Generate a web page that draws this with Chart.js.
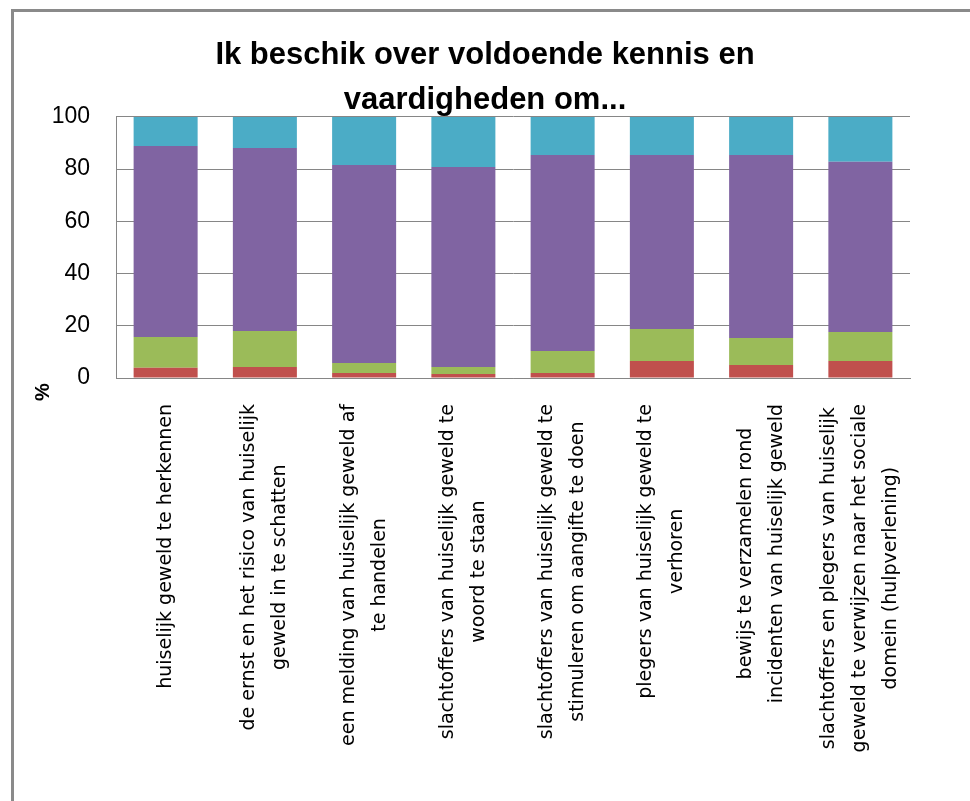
<!DOCTYPE html>
<html>
<head>
<meta charset="utf-8">
<script src="https://cdn.jsdelivr.net/npm/chart.js@4"></script>
<style>
  html, body { margin: 0; padding: 0; background: #fff; overflow: hidden; }
  #wrap { position: relative; width: 970px; height: 801px; }
  #frame { position: absolute; left: 11px; top: 9px; width: 2000px; height: 2000px; border: 3px solid #8a8a8a; }
  #chart { position: absolute; left: 0; top: 0; }
</style>
</head>
<body>
<div id="wrap">
  <div id="frame"></div>
  <canvas id="chart" width="970" height="801"></canvas>
</div>
<script>
// categorieën (regels zoals in het origineel afgebroken)
const categories = [
    ["huiselijk geweld te herkennen"],
    ["de ernst en het risico van huiselijk", "geweld in te schatten"],
    ["een melding van huiselijk geweld af", "te handelen"],
    ["slachtoffers van huiselijk geweld te", "woord te staan"],
    ["slachtoffers van huiselijk geweld te", "stimuleren om aangifte te doen"],
    ["plegers van huiselijk geweld te", "verhoren"],
    ["bewijs te verzamelen rond", "incidenten van huiselijk geweld"],
    ["slachtoffers en plegers van huiselijk", "geweld te verwijzen naar het sociale", "domein (hulpverlening)"]
];

// percentages per reeks, van onder naar boven
const helemaalOneens = [3.9, 4.2, 1.9, 1.5, 1.9, 6.5, 5.0, 6.5];
const oneens = [11.8, 13.8, 3.8, 2.7, 8.4, 12.3, 10.3, 11.1];
const eens = [73.2, 70.1, 75.9, 76.6, 75.1, 66.6, 70.1, 65.2];
const helemaalEens = [11.1, 11.9, 18.4, 19.2, 14.6, 14.6, 14.6, 17.2];

const yTicks = [0, 20, 40, 60, 80, 100];

// x-labels zelf tekenen zodat de regels gecentreerd staan
const xLabelPlugin = {
    id: 'xLabels',
    afterDraw(chart) {
        const ctx = chart.ctx;
        const xs = chart.scales.x;
        const area = chart.chartArea;
        ctx.save();
        ctx.font = '19px "DejaVu Sans"';
        ctx.fillStyle = '#000';
        ctx.textAlign = 'center';
        ctx.textBaseline = 'middle';
        categories.forEach((lines, i) => {
            const x = xs.getPixelForTick(i);
            const maxLen = Math.max(...lines.map(l => ctx.measureText(l).width));
            ctx.save();
            ctx.translate(x, area.bottom + 26 + maxLen / 2);
            ctx.rotate(-Math.PI / 2);
            lines.forEach((line, j) => {
                ctx.fillText(line, 0, (j - (lines.length - 1) / 2) * 31);
            });
            ctx.restore();
        });

        // as-titel "%"
        ctx.font = 'bold 20px "Liberation Sans"';
        ctx.translate(area.left - 73, area.bottom + 14);
        ctx.rotate(-Math.PI / 2);
        ctx.fillText('%', 0, 0);
        ctx.restore();
    }
};

new Chart(document.getElementById('chart'), {
    type: 'bar',
    data: {
        labels: categories,
        datasets: [
            { label: 'helemaal oneens', data: helemaalOneens, backgroundColor: '#C0504D' },
            { label: 'oneens', data: oneens, backgroundColor: '#9BBB59' },
            { label: 'eens', data: eens, backgroundColor: '#8064A2' },
            { label: 'helemaal eens', data: helemaalEens, backgroundColor: '#4BACC6' }
        ]
    },
    options: {
        responsive: false,
        animation: false,
        layout: { padding: { left: 48, right: 48, top: 0, bottom: 0 } },
        datasets: { bar: { barPercentage: 1, categoryPercentage: 0.645, borderWidth: 0 } },
        plugins: {
            legend: { display: false },
            tooltip: { enabled: false },
            title: {
                display: true,
                text: ["Ik beschik over voldoende kennis en", "vaardigheden om..."],
                color: '#000',
                font: { family: '"Liberation Sans"', size: 31, weight: 'bold', lineHeight: 1.45 },
                padding: { top: 33, bottom: -6 }
            }
        },
        scales: {
            x: {
                stacked: true,
                grid: { display: false, drawTicks: false },
                border: { display: true, color: '#868686' },
                ticks: { display: false, autoSkip: false },
                afterFit(scale) { scale.height = 423; }
            },
            y: {
                stacked: true,
                min: 0,
                max: 100,
                afterBuildTicks(scale) { scale.ticks = yTicks.map(v => ({ value: v })); },
                grid: { color: '#868686', lineWidth: 1, drawTicks: false },
                border: { display: true, color: '#868686' },
                ticks: {
                    color: '#000',
                    padding: 26,
                    font: { family: '"Liberation Sans"', size: 23 }
                },
                afterFit(scale) { scale.width = 68; }
            },
            // lege as rechts, alleen voor ruimte
            y2: {
                position: 'right',
                display: true,
                grid: { display: false, drawTicks: false },
                border: { display: false },
                ticks: { display: false },
                afterFit(scale) { scale.width = 12; }
            }
        }
    },
    plugins: [xLabelPlugin]
});
</script>
</body>
</html>
